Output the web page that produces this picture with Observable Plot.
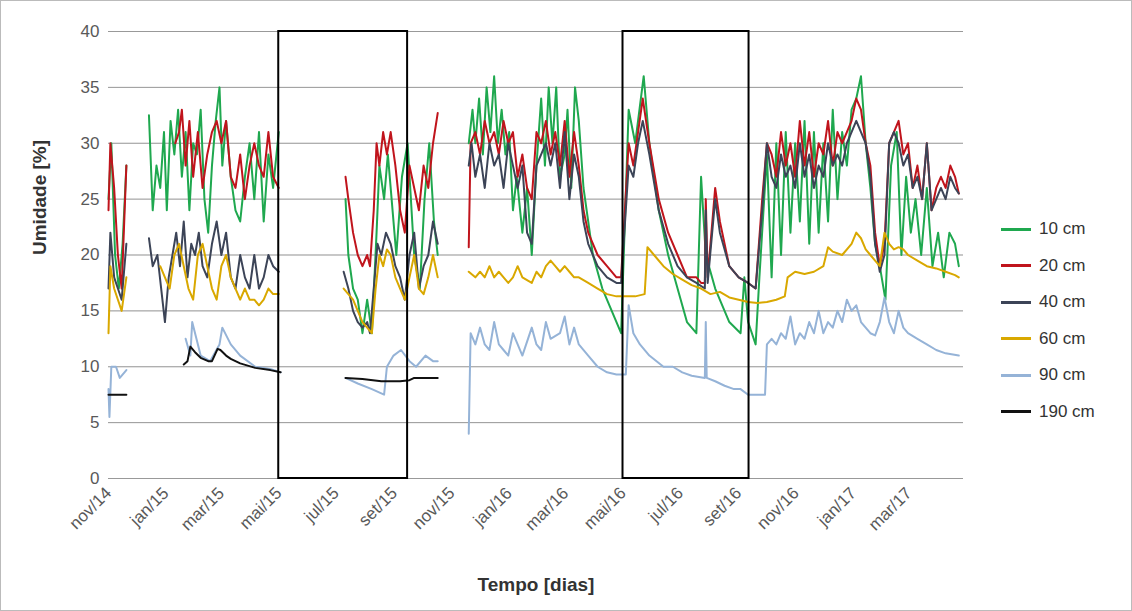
<!DOCTYPE html>
<html><head><meta charset="utf-8">
<script src="https://cdn.jsdelivr.net/npm/d3@7"></script>
<script src="https://cdn.jsdelivr.net/npm/@observablehq/plot@0.6"></script>
<style>
body{margin:0;background:#fff;font-family:"Liberation Sans",Arial,sans-serif;}
#wrap{position:relative;width:1130px;height:609px;border:1px solid #bbb;}
#legend{position:absolute;left:1000px;top:210px;font-size:17px;color:#333;}
#legend div{height:36.5px;display:flex;align-items:center;}
#legend span.sw{display:inline-block;width:30px;height:3px;margin-right:8px;}
</style></head><body>
<div id="wrap"><div id="chart"></div><div id="legend"></div></div>
<script>
// days since 2014-11-01, value (null = gap)
const s10 = [[0,25],[3,30],[7,20],[11,17],[15,21],[19,28],[20,null],
[43,32.5],[47,24],[51,28],[55,26],[59,31],[62,24],[66,32],[70,29],[74,33],[78,27],[82,31],[86,24],[90,30],[94,29],[98,33],[102,25],[106,22],[110,28],[114,32],[118,35],[121,28],[125,32],[130,27],[135,24],[140,23],[145,27],[150,30],[155,25],[160,31],[165,23],[170,29],[175,26],[181,31],[182,null],
[252,25],[255,20],[260,17],[265,16],[270,13],[275,16],[280,13],[285,22],[288,28],[293,25],[297,29],[302,24],[306,20],[312,27],[318,30],[325,20],[331,17],[336,25],[341,30],[346,23],[350,20],[351,null],
[383,30],[387,33],[390,30],[394,34],[398,29],[402,35],[406,31],[410,36],[414,30],[418,33],[422,29],[426,31],[430,24],[434,27],[440,22],[445,26],[450,20],[455,28],[460,34],[464,28],[468,35],[472,30],[476,35],[480,27],[485,29],[488,33],[492,26],[496,35],[500,32],[505,26],[515,20],[525,17],[535,15],[545,13],[553,33],[560,30],[569,36],[575,30],[585,24],[595,20],[605,17],[615,14],[625,13],[630,27],[635,20],[645,17],[660,14],[672,13],[676,18],[680,14],[688,12],[692,18],[700,29],[705,18],[710,30],[715,20],[720,31],[725,22],[730,30],[735,23],[740,32],[745,21],[750,31],[755,22],[760,30],[765,23],[770,33],[775,25],[780,31],[785,28],[790,33],[795,34],[800,36],[805,30],[810,26],[815,21],[820,19],[826,16],[832,28],[838,31],[843,20],[848,27],[853,22],[858,25],[864,20],[870,26],[876,19],[882,22],[888,18],[894,22],[900,21],[904,19]];

const s20 = [[0,24],[2,30],[6,26],[10,20],[14,17],[19,28],[20,null],
[71,30],[75,31],[78,33],[82,28],[86,32],[90,27],[95,31],[100,26],[105,29],[110,31],[115,32],[120,30],[125,32],[130,27],[135,26],[140,29],[145,25],[150,28],[155,30],[160,28],[165,27],[170,31],[175,27],[181,26],[182,null],
[252,27],[255,25],[260,22],[265,20],[270,19],[275,20],[278,19],[282,24],[285,30],[288,28],[292,31],[296,29],[300,31],[305,28],[310,24],[315,22],[320,28],[325,26],[330,24],[335,28],[340,26],[345,30],[350,32.7],[351,null],
[383,20.7],[385,30],[390,31],[395,29],[400,32],[405,30],[410,31],[415,29],[420,32],[425,30],[430,31],[435,27],[440,29],[445,26],[450,25],[455,31],[460,30],[465,32],[470,29],[475,31],[480,28],[485,32],[490,27],[495,31],[500,28],[505,24],[510,22],[520,20],[530,19],[540,18],[545,18],[553,30],[558,28],[563,31],[568,34],[575,30],[585,25],[595,22],[605,20],[615,18],[625,18],[630,17.5],[634,17.5],[635,25],[637,18],[645,26],[650,23],[660,19],[670,18],[680,17.5],[688,17],[695,25],[700,30],[705,29],[710,27],[715,31],[720,28],[725,30],[730,27],[735,32],[740,28],[745,31],[750,27],[755,30],[760,29],[765,32],[770,28],[775,31],[780,30],[785,31],[790,32],[795,34],[800,33],[805,30],[810,28],[815,22],[820,19],[825,21],[830,30],[835,31],[840,32],[845,29],[850,30],[855,26],[860,28],[865,25],[870,30],[875,24],[880,26],[885,27],[890,26],[895,28],[900,27],[904,25.5]];

const s40 = [[0,17],[2,22],[6,18],[10,17],[14,16],[19,21],[20,null],
[43,21.5],[47,19],[52,20],[56,17],[60,14],[64,18],[68,20],[72,22],[76,19],[80,23],[84,18],[88,21],[92,20],[96,22],[100,19],[105,18],[110,21],[115,23],[120,20],[125,22],[130,18],[135,17],[140,20],[145,18],[150,17],[155,20],[160,17],[165,18],[170,20],[175,19],[181,18.5],[182,null],
[250,18.5],[255,17],[260,15],[265,14],[270,13.5],[275,14],[278,13],[282,17],[286,21],[290,20],[295,22],[300,21],[305,19],[310,18],[315,16],[320,20],[325,22],[330,17],[335,19],[340,20],[345,23],[350,21],[351,null],
[383,28],[386,30],[390,27],[395,29],[400,26],[405,30],[410,28],[415,29],[420,26],[425,30],[430,28],[435,26],[440,28],[445,22],[450,21],[455,28],[460,29],[465,30],[470,28],[475,30],[480,26],[485,31],[490,25],[495,29],[500,27],[505,23],[510,21],[520,19],[530,18],[540,17.5],[545,17.5],[553,28],[558,27],[563,30],[568,32],[575,29],[585,24],[595,21],[605,19],[615,18],[625,17.5],[634,17],[635,24],[637,17.5],[645,25],[650,22],[660,19],[670,18],[680,17.5],[688,17],[695,24],[700,30],[705,27],[710,26],[715,29],[720,27],[725,28],[730,26],[735,30],[740,27],[745,29],[750,26],[755,28],[760,27],[765,30],[770,28],[775,29],[780,28],[785,30],[790,31],[795,32],[800,31],[805,30],[810,27],[815,21],[820,18.5],[825,20],[830,30],[835,31],[840,30],[845,28],[850,29],[855,26],[860,27],[865,25],[870,30],[875,24],[880,25],[885,26],[890,25],[895,27],[900,26],[904,25.5]];

const s60 = [[0,13],[2,19],[6,17],[10,16],[14,15],[19,18],[20,null],
[55,19],[60,18],[65,17],[70,20],[75,21],[80,19],[85,17],[90,16],[95,20],[100,21],[105,19],[110,17],[115,16],[120,19],[125,20],[130,18],[135,17],[140,16],[145,17],[150,16],[155,16],[160,15.5],[165,16],[170,17],[175,16.5],[181,16.5],[182,null],
[250,17],[255,16.5],[260,16],[265,15],[270,14],[275,13.5],[280,13],[284,17],[288,20],[292,19],[296,20.5],[300,20],[305,18],[310,17],[315,16],[320,18],[325,20],[330,17],[335,16.5],[340,18],[345,20],[350,18],[351,null],
[383,18.5],[390,18],[395,18.5],[400,18],[405,19],[410,18],[415,18.5],[420,18],[425,17.5],[430,18],[435,19],[440,18],[450,17.5],[455,18.5],[460,18],[465,19],[470,19.5],[475,19],[480,18.5],[485,19],[490,18.5],[495,18],[500,18],[510,17.5],[520,17],[530,16.5],[540,16.3],[560,16.3],[570,16.5],[573,20.7],[580,20],[590,19],[600,18.3],[610,17.8],[620,17.3],[630,17],[640,16.5],[650,16.7],[660,16.2],[670,16],[680,15.8],[690,15.7],[700,15.8],[710,16],[719,16.3],[722,18],[730,18.5],[740,18.3],[750,18.5],[760,19],[765,20.7],[770,20.3],[780,20],[790,21],[795,22],[800,21.5],[805,20.5],[810,20],[815,19.5],[820,19],[825,22],[830,21],[835,20.5],[840,20.7],[845,20.5],[850,20],[860,19.5],[870,19],[880,18.8],[890,18.5],[900,18.2],[904,18]];

const s90 = [[0,8],[1,5.5],[3,10],[8,10],[12,9],[17,9.5],[19,9.7],[20,null],
[82,12.5],[87,11],[89,14],[98,11],[108,10.5],[118,12],[121,13.5],[130,12],[140,11],[156,10],[172,9.8],[183,9.5],[184,null],
[252,9],[265,8.5],[280,8],[293,7.5],[296,10],[303,11],[311,11.5],[320,10.5],[327,10],[337,11],[345,10.5],[350,10.5],[351,null],
[383,4],[385,13],[390,12],[395,13.5],[400,12],[405,11.5],[410,14],[415,12],[420,11.5],[425,11],[430,13],[440,11],[450,13.5],[455,12],[460,11.5],[465,14],[470,12.5],[480,13],[485,14.5],[490,12],[495,13.5],[500,12],[510,11],[520,10],[530,9.5],[540,9.3],[550,9.3],[553,15.5],[558,13],[565,12],[575,11],[590,10],[600,10],[610,9.5],[620,9.2],[634,9],[635,14],[636,9],[645,8.7],[655,8.3],[665,8],[672,8],[680,7.5],[698,7.5],[700,12],[705,12.5],[710,12],[715,13],[720,12.5],[725,14.5],[730,12],[735,13],[740,12.5],[745,14],[750,13],[755,15],[760,13],[765,14],[770,13.5],[775,15],[780,14],[785,16],[790,15],[795,15.5],[800,14],[810,13],[815,12.8],[820,14],[825,16.2],[830,14],[835,13],[840,15],[845,13.5],[850,13],[860,12.5],[870,12],[880,11.5],[890,11.2],[904,11]];

const s190 = [[0,7.5],[19,7.5],[20,null],
[80,10.2],[84,10.5],[87,11.8],[92,11.3],[98,10.8],[106,10.5],[110,10.5],[116,11.6],[119,11.5],[125,11],[130,10.7],[140,10.3],[156,9.9],[172,9.7],[183,9.5],[184,null],
[252,9],[270,8.9],[290,8.7],[310,8.7],[320,8.8],[325,9],[350,9]];

const seriesNames = ["10 cm","20 cm","40 cm","60 cm","90 cm","190 cm"];
const seriesData = [s10,s20,s40,s60,s90,s190];
const colors = ["#1fa84f","#c0141c","#3c4457","#d9a800","#95b3d7","#111111"];
const boxes = [["2015-05-01","2015-09-15"],["2016-05-01","2016-09-12"]];
const monthNames = ["jan","fev","mar","abr","mai","jun","jul","ago","set","out","nov","dez"];

const t0 = new Date(Date.UTC(2014,10,1));
const rows = seriesData.flatMap((s,i) => s.map(([d,v]) => ({serie: seriesNames[i], date: d3.utcDay.offset(t0,d), v})));
const boxRows = boxes.map(([a,b]) => ({x1: new Date(a), x2: new Date(b)}));
const ticks = d3.utcMonth.range(t0, new Date(Date.UTC(2017,4,1)), 2);

const chart = Plot.plot({
  width: 980, height: 609,
  marginLeft: 107, marginRight: 18, marginTop: 30, marginBottom: 132,
  style: {fontFamily: "Liberation Sans, Arial, sans-serif", fontSize: "17px", color: "#595959"},
  x: {type: "utc", domain: [t0, d3.utcDay.offset(t0, 909)], ticks, tickSize: 0,
      tickFormat: d => monthNames[d.getUTCMonth()] + "/" + String(d.getUTCFullYear()).slice(2),
      tickRotate: -45, label: null},
  y: {domain: [0,40], ticks: d3.range(0,41,5), grid: true, tickSize: 0, label: null},
  color: {domain: seriesNames, range: colors},
  marks: [
    Plot.gridY(d3.range(0,41,5), {stroke: "#999", strokeOpacity: 1}),
    Plot.line(rows, {x: "date", y: "v", z: "serie", stroke: "serie", strokeWidth: 2}),
    Plot.rect(boxRows, {x1: "x1", x2: "x2", y1: 0, y2: 40, stroke: "black", strokeWidth: 2, fill: "none"}),
    Plot.text(["Umidade [%]"], {frameAnchor: "left", dx: -69, rotate: -90, fontWeight: "bold", fontSize: 19, fill: "#333"}),
    Plot.text(["Tempo [dias]"], {frameAnchor: "bottom", dy: 112, fontWeight: "bold", fontSize: 19, fill: "#333"})
  ]
});
document.getElementById("chart").append(chart);

const leg = document.getElementById("legend");
seriesNames.forEach((n,i) => {
  const div = document.createElement("div");
  div.innerHTML = `<span class="sw" style="background:${colors[i]}"></span>${n}`;
  leg.append(div);
});
</script>
</body></html>
